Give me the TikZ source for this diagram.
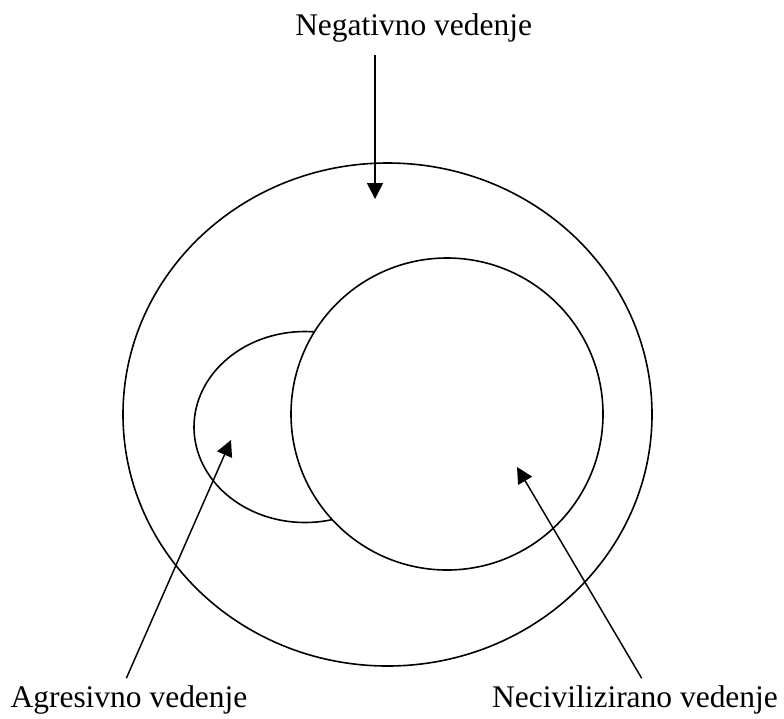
\documentclass[tikz,border=0pt]{standalone}
\usepackage{fontspec}
\setmainfont{Liberation Serif}
\usetikzlibrary{positioning,arrows.meta,shapes.geometric}
\tikzset{
  ring/.style={draw, ellipse, line width=1.2pt, inner sep=0pt},
  lbl/.style={inner xsep=0pt, inner ysep=5pt, font=\fontsize{23.6}{28}\selectfont},
  flow/.style={-{Triangle[length=12pt, width=12pt]}, line width=1.1pt},
}

\begin{document}
\begin{tikzpicture}[x=0.75pt, y=-0.75pt]
        \useasboundingbox (0,0) rectangle (784,718);
        \node[ring, minimum width=396.75pt, minimum height=377.25pt] (negring) at (387.5,414.5) {};
        \node[ring, minimum width=166.5pt, minimum height=143.25pt] (agrring) at (305,427) {};
        \node[ring, fill=white, minimum width=234pt, minimum height=234pt] (necring) at (447,414) {};
        \node[lbl, anchor=base west, inner ysep=9.75pt] (neg) at (295,35) {Negativno vedenje};
        \node[lbl, anchor=base] (agr) at (129,707) {Agresivno vedenje};
        \node[lbl, anchor=base] (nec) at (635,707) {Necivilizirano vedenje};
        \coordinate (negtip) at (375,199);
        \coordinate (agrtip) at (231,440);
        \coordinate (nectip) at (517,467);
        \draw[flow] (neg.south -| negtip) -- (negtip);
        \draw[flow] ([xshift=-2pt]agr.north) -- (agrtip);
        \draw[flow] ([xshift=5pt]nec.north) -- (nectip);
      \end{tikzpicture}
\end{document}
